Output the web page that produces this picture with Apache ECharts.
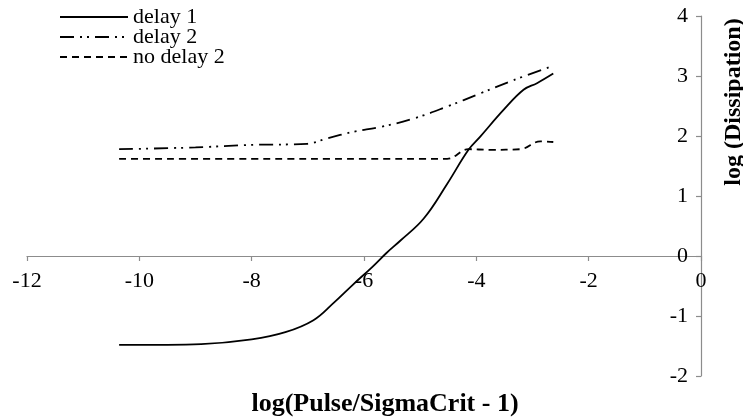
<!DOCTYPE html>
<html>
<head>
<meta charset="utf-8">
<script src="https://cdn.jsdelivr.net/npm/echarts@6/dist/echarts.min.js"></script>
<style>
  html, body { margin: 0; padding: 0; background: #fff; }
  #chart { width: 743px; height: 419px; }
</style>
</head>
<body>
<div id="chart"></div>
<script>
// log(Pulse/SigmaCrit - 1) positions and log(Dissipation) values per run
const delay1X = [-10.36, -9.5, -8.9, -8.0, -7.4, -6.9, -6.55, -6.2, -5.85, -5.6, -5.36, -4.94, -4.52, -4.14, -3.93, -3.52, -3.16, -2.92, -2.63];
const delay1Y = [-1.48, -1.48, -1.47, -1.39, -1.27, -1.07, -0.79, -0.48, -0.18, 0.05, 0.25, 0.62, 1.2, 1.77, 1.99, 2.43, 2.77, 2.88, 3.04];

const delay2X = [-10.36, -9.0, -8.08, -7.01, -6.66, -6.19, -5.71, -5.12, -4.52, -3.93, -3.34, -2.63];
const delay2Y = [1.78, 1.81, 1.85, 1.87, 1.96, 2.07, 2.15, 2.29, 2.49, 2.71, 2.93, 3.17];

const noDelay2X = [-10.36, -8.0, -6.0, -4.52, -4.14, -3.75, -3.22, -2.86, -2.63];
const noDelay2Y = [1.62, 1.62, 1.62, 1.62, 1.78, 1.77, 1.78, 1.91, 1.90];

const seriesNames = ['delay 1', 'delay 2', 'no delay 2'];
const xTitle = 'log(Pulse/SigmaCrit - 1)';
const yTitle = 'log (Dissipation)';

const pairs = (xs, ys) => xs.map((x, i) => [x, ys[i]]);

const FONT = '"Liberation Serif", "Times New Roman", serif';
const AXIS_GREY = '#8c8c8c';

const chart = echarts.init(document.getElementById('chart'), null, { renderer: 'canvas' });

// grid spans y = -2..4 over 360px, so y = 0 sits 120px above the bottom edge
const X_AXIS_LIFT = -120;

chart.setOption({
  animation: false,
  backgroundColor: '#ffffff',
  grid: { left: 27, right: 42, top: 16, bottom: 43, containLabel: false },
  legend: {
    orient: 'vertical',
    left: 54,
    top: 1,
    itemWidth: 68,
    itemHeight: 14,
    itemGap: -2,
    itemStyle: { color: 'rgba(0,0,0,0)', borderWidth: 0, opacity: 0 },
    textStyle: { fontFamily: FONT, fontSize: 22, color: '#000', lineHeight: 20 },
    data: seriesNames
  },
  xAxis: {
    type: 'value',
    position: 'bottom',
    offset: X_AXIS_LIFT,
    min: -12,
    max: 0,
    interval: 2,
    axisLine: { onZero: false, lineStyle: { color: AXIS_GREY, width: 1.2 } },
    axisTick: { show: true, length: 5, lineStyle: { color: AXIS_GREY, width: 1.2 } },
    axisLabel: { fontFamily: FONT, fontSize: 22, color: '#000', margin: 14 },
    splitLine: { show: false }
  },
  yAxis: {
    type: 'value',
    position: 'right',
    min: -2,
    max: 4,
    interval: 1,
    axisLine: { show: true, onZero: false, lineStyle: { color: AXIS_GREY, width: 1.2 } },
    axisTick: { show: true, inside: true, length: 5, lineStyle: { color: AXIS_GREY, width: 1.2 } },
    axisLabel: { inside: true, fontFamily: FONT, fontSize: 22, color: '#000', margin: 13 },
    splitLine: { show: false }
  },
  graphic: [
    {
      type: 'text',
      x: 385, y: 404,
      style: {
        text: xTitle,
        font: 'bold 26px ' + FONT, fill: '#000',
        textAlign: 'center', textVerticalAlign: 'middle'
      }
    },
    {
      type: 'text',
      rotation: Math.PI / 2,
      x: 734, y: 102,
      style: {
        text: yTitle,
        font: 'bold 24px ' + FONT, fill: '#000',
        textAlign: 'center', textVerticalAlign: 'middle'
      }
    }
  ],
  series: [
    {
      name: seriesNames[0], type: 'line', smooth: 0.4, symbol: 'none',
      lineStyle: { color: '#000', width: 1.8, type: 'solid' },
      itemStyle: { color: '#000' },
      data: pairs(delay1X, delay1Y)
    },
    {
      name: seriesNames[1], type: 'line', smooth: 0.4, symbol: 'none',
      lineStyle: { color: '#000', width: 1.8, type: [14, 6, 2, 5, 2, 6] },
      itemStyle: { color: '#000' },
      data: pairs(delay2X, delay2Y)
    },
    {
      name: seriesNames[2], type: 'line', smooth: 0.4, symbol: 'none',
      lineStyle: { color: '#000', width: 1.8, type: [7, 5] },
      itemStyle: { color: '#000' },
      data: pairs(noDelay2X, noDelay2Y)
    }
  ]
});
</script>
</body>
</html>
